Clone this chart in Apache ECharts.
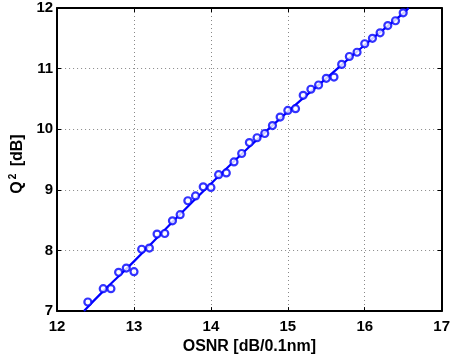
<!DOCTYPE html>
<html>
<head>
<meta charset="utf-8">
<script src="https://cdn.jsdelivr.net/npm/echarts@6/dist/echarts.min.js"></script>
<style>
  html, body { margin: 0; padding: 0; background: #fff; }
  #chart { width: 453px; height: 360px; }
</style>
</head>
<body>
<div id="chart"></div>
<script>
// measured points, OSNR [dB/0.1nm] vs Q^2 [dB]
const osnr = [
  12.4, 12.6, 12.7, 12.8, 12.9, 13.0, 13.1, 13.2, 13.3, 13.4,
  13.5, 13.6, 13.7, 13.8, 13.9, 14.0, 14.1, 14.2, 14.3, 14.4,
  14.5, 14.6, 14.7, 14.8, 14.9, 15.0, 15.1, 15.2, 15.3, 15.4,
  15.5, 15.6, 15.7, 15.8, 15.9, 16.0, 16.1, 16.2, 16.3, 16.4, 16.5
];
const q2 = [
  7.15, 7.37, 7.37, 7.64, 7.71, 7.65, 8.02, 8.04, 8.27, 8.28,
  8.49, 8.59, 8.82, 8.90, 9.05, 9.04, 9.25, 9.28, 9.46, 9.60,
  9.78, 9.86, 9.93, 10.06, 10.20, 10.31, 10.34, 10.56, 10.66, 10.73,
  10.84, 10.86, 11.07, 11.20, 11.27, 11.41, 11.50, 11.59, 11.71, 11.79, 11.92
];

// fitted curve
const fitX = [12.35, 12.6, 13.0, 13.5, 14.0, 14.5, 15.0, 15.5, 16.0, 16.5, 16.57];
const fitY = [7.0, 7.33, 7.82, 8.47, 9.1, 9.71, 10.29, 10.84, 11.39, 11.91, 12.0];

const font = '"Liberation Sans", Arial, sans-serif';

const chart = echarts.init(document.getElementById('chart'));

const labelStyle = {
  color: '#000',
  fontFamily: font,
  fontWeight: 'bold',
  fontSize: 15
};

const tick = { inside: true, length: 4, lineStyle: { color: '#000', width: 1 } };
const frame = { lineStyle: { color: '#000', width: 2 } };
const dotted = { show: true, lineStyle: { color: '#888', type: [1, 3], width: 1 } };

const option = {
  animation: false,
  grid: { left: 56, right: 8, top: 8, bottom: 45 },
  xAxis: [
    {
      type: 'value',
      min: 12,
      max: 17,
      interval: 1,
      name: 'OSNR [dB/0.1nm]',
      nameLocation: 'middle',
      nameGap: 24,
      nameTextStyle: { ...labelStyle, fontSize: 16 },
      axisLine: frame,
      axisTick: tick,
      axisLabel: { ...labelStyle, margin: 8 },
      splitLine: dotted
    },
    {
      type: 'value',
      position: 'top',
      min: 12,
      max: 17,
      interval: 1,
      axisLine: { show: true, ...frame },
      axisTick: tick,
      axisLabel: { show: false },
      splitLine: { show: false }
    }
  ],
  yAxis: [
    {
      type: 'value',
      min: 7,
      max: 12,
      interval: 1,
      name: '{q|Q}{s|2}{q| [dB]}',
      nameLocation: 'middle',
      nameGap: 18,
      nameTextStyle: {
        ...labelStyle,
        padding: [0, 9, 0, 0],
        rich: {
          q: { ...labelStyle, fontSize: 16 },
          s: { ...labelStyle, fontSize: 10, padding: [0, 3, 9, 2] }
        }
      },
      axisLine: frame,
      axisTick: tick,
      axisLabel: { ...labelStyle, margin: 4 },
      splitLine: dotted
    },
    {
      type: 'value',
      position: 'right',
      min: 7,
      max: 12,
      interval: 1,
      axisLine: { show: true, ...frame },
      axisTick: tick,
      axisLabel: { show: false },
      splitLine: { show: false }
    }
  ],
  series: [
    {
      type: 'line',
      data: fitX.map((x, i) => [x, fitY[i]]),
      showSymbol: false,
      smooth: true,
      lineStyle: { color: '#0000ff', width: 2.2 },
      silent: true,
      z: 2
    },
    {
      type: 'scatter',
      data: osnr.map((x, i) => [x, q2[i]]),
      symbol: 'circle',
      symbolSize: 7,
      itemStyle: { color: '#fff', borderColor: '#0000ff', borderWidth: 2.2 },
      z: 3
    }
  ]
};

chart.setOption(option);
</script>
</body>
</html>
